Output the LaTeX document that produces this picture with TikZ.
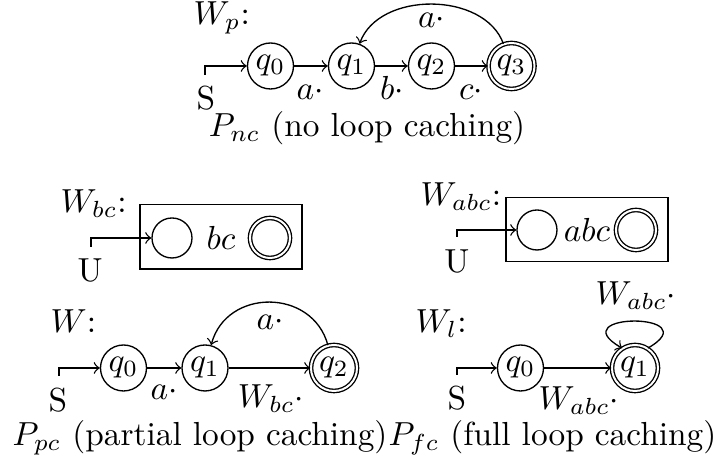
\documentclass[tikz,border=0pt]{standalone}
\begin{document}
\begin{tikzpicture}[x=0.3pt, y=-0.3pt,
  qstate/.style={circle, draw, minimum size=13.8pt, inner sep=0pt},
  qacc/.style={qstate, double},
  sstate/.style={circle, draw, minimum size=12pt, inner sep=0pt},
  lbl/.style={inner sep=0pt, anchor=base},
  lblw/.style={inner sep=0pt, anchor=base west},
  wbox/.style={draw, minimum width=48.6pt, minimum height=19.3pt, inner sep=0pt}]
\useasboundingbox (0,0) rectangle (720,471);

% ---- top: P_nc
\node[lblw] (wp) at (193,25) {$W_p$:};
\node[qstate] (a0) at (270.5,66) {$q_0$};
\node[qstate] (a1) at (351.5,66) {$q_1$};
\node[qstate] (a2) at (431.5,66) {$q_2$};
\node[qacc]   (a3) at (511.5,66) {$q_3$};
\node[lbl] (as) at (206,110) {S};
\coordinate (at) at (205,75);
\draw[->] (at) |- (a0);
\draw[->] (a0) -- (a1);
\draw[->] (a1) -- (a2);
\draw[->] (a2) -- (a3);
\draw[->] (a3) to[out=110,in=70,looseness=1.0] (a1);
\node[lbl] (la1) at (310,100) {$a\cdot$};
\node[lbl] (lb) at (392,100) {$b\cdot$};
\node[lbl] (lc) at (471,100) {$c\cdot$};
\node[lbl] (la2) at (431.5,28) {$a\cdot$};
\node[lbl] (cap1) at (367,137) {$P_{nc}$ (no loop caching)};

% ---- middle left: W_bc
\node[lblw] (wbc) at (60,213) {$W_{bc}$:};
\node[wbox] (box1) at (221,237) {};
\node[sstate] (b0) at (172,238) {};
\node[lbl] (bct) at (221,250) {$bc$};
\node[sstate, double] (b1) at (270,238) {};
\coordinate (bt) at (91,247);
\draw[->] (bt) |- (b0);
\node[lbl] (bu) at (90,282) {U};

% ---- middle right: W_abc
\node[lblw] (wabc) at (420,206) {$W_{abc}$:};
\node[wbox] (box2) at (587,229.5) {};
\node[sstate] (c0) at (537,230) {};
\node[lbl] (abct) at (587,242) {$abc$};
\node[sstate, double] (c1) at (636,230) {};
\coordinate (ct) at (457,237);
\draw[->] (ct) |- (c0);
\node[lbl] (cu) at (457,273) {U};

% ---- bottom left: P_pc
\node[lblw] (w) at (50,333) {$W$:};
\node[qstate] (d0) at (123.5,368) {$q_0$};
\node[qstate] (d1) at (205,368) {$q_1$};
\node[qacc]   (d2) at (334,368) {$q_2$};
\node[lbl] (ds) at (58,412) {S};
\coordinate (dt) at (59,376);
\draw[->] (dt) |- (d0);
\draw[->] (d0) -- (d1);
\draw[->] (d1) -- (d2);
\draw[->] (d2) to[out=105,in=75,looseness=1.3] (d1);
\node[lbl] (ld1) at (164,400) {$a\cdot$};
\node[lbl] (ld2) at (271,408) {$W_{bc}\cdot$};
\node[lbl] (ld3) at (270,330) {$a\cdot$};
\node[lbl] (cap2) at (200,446) {$P_{pc}$ (partial loop caching)};

% ---- bottom right: P_fc
\node[lblw] (wl) at (415,333) {$W_l$:};
\node[qstate] (e0) at (520.5,368) {$q_0$};
\node[qacc]   (e1) at (635,368) {$q_1$};
\node[lbl] (es) at (457,410) {S};
\coordinate (et) at (457,375);
\draw[->] (et) |- (e0);
\draw[->] (e0) -- (e1);
\draw[->] (e1.57) to[out=30,in=150,distance=21.6pt] (e1.123);
\node[lbl] (le1) at (579,410) {$W_{abc}\cdot$};
\node[lbl] (le2) at (636,305) {$W_{abc}\cdot$};
\node[lbl] (cap3) at (552.5,446) {$P_{fc}$ (full loop caching)};
\end{tikzpicture}
\end{document}
